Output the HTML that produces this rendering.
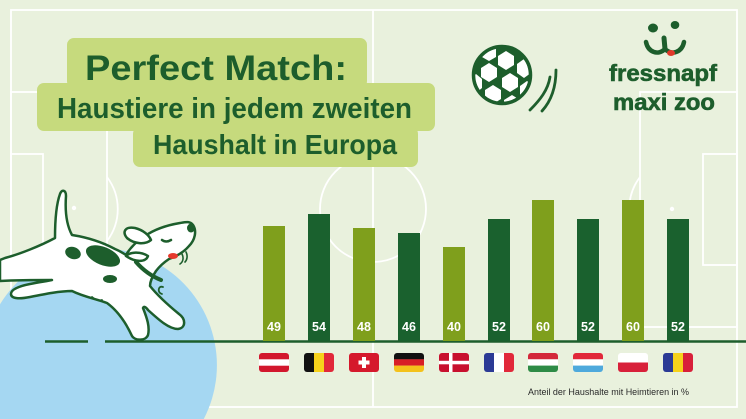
<!DOCTYPE html>
<html>
<head>
<meta charset="utf-8">
<style>
html,body{margin:0;padding:0;background:#e9f1dd;width:746px;height:419px;overflow:hidden;}
svg{display:block;}
</style>
</head>
<body>
<svg width="746" height="419" viewBox="0 0 746 419" xmlns="http://www.w3.org/2000/svg" style="overflow:hidden">
  <rect x="0" y="0" width="746" height="419" fill="#e9f1dd"/>
  <!-- field lines -->
  <g fill="none" stroke="#ffffff" stroke-width="1.8">
    <rect x="11" y="10" width="726" height="397"/>
    <line x1="373" y1="10" x2="373" y2="407"/>
    <circle cx="373" cy="209" r="53"/>
    <rect x="11" y="92" width="96" height="235"/>
    <rect x="11" y="154" width="32" height="111"/>
    <path d="M107,177 A53,53 0 0 1 107,241"/>
    <rect x="640" y="92" width="97" height="235"/>
    <rect x="703" y="154" width="34" height="111"/>
    <path d="M640,177 A53,53 0 0 0 640,241"/>
  </g>
  <circle cx="74" cy="208" r="2.2" fill="#fff"/>
  <circle cx="672" cy="209" r="2.2" fill="#fff"/>

  <!-- title boxes -->
  <g fill="#c6da7d">
    <rect x="67" y="38" width="300" height="50" rx="7"/>
    <rect x="37" y="83" width="398" height="48" rx="7"/>
    <rect x="133" y="127" width="285" height="40" rx="7"/>
  </g>
  <g fill="#1d5e2c" font-family="Liberation Sans, sans-serif" font-weight="bold">
    <text x="85" y="80" font-size="35" textLength="262" lengthAdjust="spacingAndGlyphs">Perfect Match:</text>
    <text x="57" y="118" font-size="29" textLength="355" lengthAdjust="spacingAndGlyphs">Haustiere in jedem zweiten</text>
    <text x="153" y="154" font-size="28" textLength="244" lengthAdjust="spacingAndGlyphs">Haushalt in Europa</text>
  </g>

  <!-- ball -->
  <defs>
    <clipPath id="ballclip"><circle cx="502" cy="75" r="27"/></clipPath>
  </defs>
  <circle cx="502" cy="75" r="28.5" fill="#1d5e2c"/>
  <g fill="#ffffff" clip-path="url(#ballclip)">
    <polygon points="510,73 518,78 518,87 510,92 502,87 502,78"/>
    <polygon points="489,63 497,68 497,77 489,82 481,77 481,68"/>
    <polygon points="506,51 514,56 514,65 506,70 498,65 498,56"/>
    <polygon points="524,59 531,64 531,73 524,78 517,73 517,64"/>
    <polygon points="527,81 534,86 534,95 527,100 520,95 520,86"/>
    <polygon points="512,95 520,100 520,109 512,114 504,109 504,100"/>
    <polygon points="493,85 501,90 501,99 493,104 485,99 485,90"/>
    <polygon points="476,74 482,79 482,88 476,93 470,88 470,79"/>
    <polygon points="489,43 496,48 496,57 489,61 482,57 482,48"/>
  </g>
  <circle cx="502" cy="75" r="28.5" fill="none" stroke="#1d5e2c" stroke-width="3.5"/>
  <g fill="none" stroke="#1d5e2c" stroke-width="2.8" stroke-linecap="round">
    <path d="M530,110 C540,100 548,90 550,77"/>
    <path d="M542,111 C552,100 556,85 556,70"/>
  </g>

  <!-- logo -->
  <ellipse cx="653" cy="28" rx="5" ry="4.5" fill="#1d5e2c"/>
  <ellipse cx="675" cy="25" rx="4.3" ry="4" fill="#1d5e2c"/>
  <path d="M646,42 C648,52 658,56 665,49 C672,56 682,52 684,42" fill="none" stroke="#1d5e2c" stroke-width="4.5" stroke-linecap="round"/>
  <path d="M664,38 L665,49" stroke="#1d5e2c" stroke-width="5" stroke-linecap="round"/>
  <ellipse cx="671" cy="53" rx="4" ry="3" fill="#e0392b"/>
  <g fill="#1d5e2c" font-family="Liberation Sans, sans-serif" font-weight="bold" stroke="#1d5e2c" stroke-width="0.6">
    <text x="609" y="81" font-size="23" textLength="108" lengthAdjust="spacingAndGlyphs">fressnapf</text>
    <text x="613" y="110" font-size="23" textLength="102" lengthAdjust="spacingAndGlyphs">maxi zoo</text>
  </g>

  <!-- blue circle (clipped to frame) -->
  <path d="M0,304.3 A117,117 0 0 1 203.8,419 L0,419 Z" fill="#a5d7f2"/>

  <!-- baseline -->
  <g stroke="#1d5e2c" stroke-width="2.5">
    <line x1="45" y1="341.5" x2="88" y2="341.5"/>
    <line x1="105" y1="341.5" x2="746" y2="341.5"/>
  </g>

  <!-- bars -->
  <g>
    <rect x="263" y="226" width="22" height="115" fill="#7f9f1c"/>
    <rect x="308" y="214" width="22" height="127" fill="#1a612e"/>
    <rect x="353" y="228" width="22" height="113" fill="#7f9f1c"/>
    <rect x="398" y="233" width="22" height="108" fill="#1a612e"/>
    <rect x="443" y="247" width="22" height="94" fill="#7f9f1c"/>
    <rect x="488" y="219" width="22" height="122" fill="#1a612e"/>
    <rect x="532" y="200" width="22" height="141" fill="#7f9f1c"/>
    <rect x="577" y="219" width="22" height="122" fill="#1a612e"/>
    <rect x="622" y="200" width="22" height="141" fill="#7f9f1c"/>
    <rect x="667" y="219" width="22" height="122" fill="#1a612e"/>
  </g>
  <g fill="#ffffff" font-family="Liberation Sans, sans-serif" font-weight="bold" font-size="12.5" text-anchor="middle">
    <text x="274" y="331">49</text>
    <text x="319" y="331">54</text>
    <text x="364" y="331">48</text>
    <text x="409" y="331">46</text>
    <text x="454" y="331">40</text>
    <text x="499" y="331">52</text>
    <text x="543" y="331">60</text>
    <text x="588" y="331">52</text>
    <text x="633" y="331">60</text>
    <text x="678" y="331">52</text>
  </g>

  <!-- flags -->
  <defs>
    <clipPath id="f1"><rect x="259" y="353" width="30" height="19" rx="3"/></clipPath>
    <clipPath id="f2"><rect x="304" y="353" width="30" height="19" rx="3"/></clipPath>
    <clipPath id="f3"><rect x="349" y="353" width="30" height="19" rx="3"/></clipPath>
    <clipPath id="f4"><rect x="394" y="353" width="30" height="19" rx="3"/></clipPath>
    <clipPath id="f5"><rect x="439" y="353" width="30" height="19" rx="3"/></clipPath>
    <clipPath id="f6"><rect x="484" y="353" width="30" height="19" rx="3"/></clipPath>
    <clipPath id="f7"><rect x="528" y="353" width="30" height="19" rx="3"/></clipPath>
    <clipPath id="f8"><rect x="573" y="353" width="30" height="19" rx="3"/></clipPath>
    <clipPath id="f9"><rect x="618" y="353" width="30" height="19" rx="3"/></clipPath>
    <clipPath id="f10"><rect x="663" y="353" width="30" height="19" rx="3"/></clipPath>
  </defs>
  <g clip-path="url(#f1)">
    <rect x="259" y="353" width="30" height="19" fill="#d2172d"/>
    <rect x="259" y="359.3" width="30" height="6.4" fill="#fff"/>
  </g>
  <g clip-path="url(#f2)">
    <rect x="304" y="353" width="10" height="19" fill="#111"/>
    <rect x="314" y="353" width="10" height="19" fill="#f6d21b"/>
    <rect x="324" y="353" width="10" height="19" fill="#e1283a"/>
  </g>
  <g clip-path="url(#f3)">
    <rect x="349" y="353" width="30" height="19" fill="#d5192c"/>
    <rect x="362" y="357" width="4" height="11" fill="#fff"/>
    <rect x="358.5" y="360.5" width="11" height="4" fill="#fff"/>
  </g>
  <g clip-path="url(#f4)">
    <rect x="394" y="353" width="30" height="6.4" fill="#111"/>
    <rect x="394" y="359.3" width="30" height="6.4" fill="#d81f26"/>
    <rect x="394" y="365.6" width="30" height="6.4" fill="#f4c21b"/>
  </g>
  <g clip-path="url(#f5)">
    <rect x="439" y="353" width="30" height="19" fill="#c8102e"/>
    <rect x="449" y="353" width="3.5" height="19" fill="#fff"/>
    <rect x="439" y="360.8" width="30" height="3.5" fill="#fff"/>
  </g>
  <g clip-path="url(#f6)">
    <rect x="484" y="353" width="10" height="19" fill="#2b3a95"/>
    <rect x="494" y="353" width="10" height="19" fill="#fff"/>
    <rect x="504" y="353" width="10" height="19" fill="#e1283a"/>
  </g>
  <g clip-path="url(#f7)">
    <rect x="528" y="353" width="30" height="6.4" fill="#d3283a"/>
    <rect x="528" y="359.3" width="30" height="6.4" fill="#fff"/>
    <rect x="528" y="365.6" width="30" height="6.4" fill="#2e8b46"/>
  </g>
  <g clip-path="url(#f8)">
    <rect x="573" y="353" width="30" height="6.4" fill="#e1283a"/>
    <rect x="573" y="359.3" width="30" height="6.4" fill="#fff"/>
    <rect x="573" y="365.6" width="30" height="6.4" fill="#4ea9dc"/>
  </g>
  <g clip-path="url(#f9)">
    <rect x="618" y="353" width="30" height="9.5" fill="#fff"/>
    <rect x="618" y="362.5" width="30" height="9.5" fill="#d8203a"/>
  </g>
  <g clip-path="url(#f10)">
    <rect x="663" y="353" width="10" height="19" fill="#2b3a95"/>
    <rect x="673" y="353" width="10" height="19" fill="#f6d21b"/>
    <rect x="683" y="353" width="10" height="19" fill="#d8203a"/>
  </g>

  <text x="528" y="395" font-family="Liberation Sans, sans-serif" font-size="9" fill="#2a2a2a" textLength="161" lengthAdjust="spacingAndGlyphs">Anteil der Haushalte mit Heimtieren in %</text>

  <!-- dog -->
  <g stroke="#1d5e2c" stroke-width="2.5" stroke-linejoin="round" stroke-linecap="round">
    <path fill="#ffffff" d="M0,260 L5,258 C20,254 40,246 55,238 C55,225 56,205 60,194 C62,189 66,190 66,196 C65,210 66,224 72,235 C85,237 100,241 115,249 C120,251 123,253 126,255 C130,248 137,241 145,236 C155,229 168,225 180,223 C186,222 190,221 193,225 C197,231 195,240 189,246 C184,252 177,256 169,259 C163,263 159,267 156,271 C152,277 150,282 150,286 C158,296 168,305 179,314 C186,319 186,328 178,329 C169,329 159,320 148,310 C146,307 144,306 143,308 C147,318 150,327 148,335 C146,341 135,341 132,336 C126,323 118,311 107,303 C97,299 84,297 72,291 C60,291 45,294 30,297 C20,299 11,299 11,294 C11,289 20,286 30,284 C40,282 48,281 52,280 C40,280 20,280 0,281 Z"/>
    <path fill="#ffffff" d="M127,238 C122,232 125,226 135,228 C143,230 149,235 151,240 C145,245 134,244 127,238 Z"/>
    <path fill="#ffffff" d="M126,256 C130,252 140,251 148,256 C146,262 136,263 126,256 Z"/>
    <path fill="none" d="M162,240 Q166,243 171,240"/>
    <path fill="none" stroke-width="4" d="M136,262 C143,270 151,276 161,280"/>
    <path fill="none" stroke-width="1.8" d="M163,287 C158,285 157,293 162,294"/>
    <path fill="none" stroke-width="1.6" d="M182,254 C184,258 183,262 180,264"/>
    <path fill="none" stroke-width="1.6" d="M186,252 C188,256 187,260 185,262"/>
    <path fill="none" stroke-width="1.8" d="M92,297 C95,300 99,301 102,300"/>
  </g>
  <g fill="#1d5e2c">
    <ellipse cx="191" cy="228" rx="4" ry="4.5"/>
    <ellipse cx="73" cy="253" rx="8" ry="6" transform="rotate(20 73 253)"/>
    <ellipse cx="103" cy="256" rx="18" ry="9" transform="rotate(22 103 256)"/>
    <ellipse cx="110" cy="279" rx="7" ry="4"/>
  </g>
  <ellipse cx="173" cy="256" rx="5" ry="3" fill="#e63a2e"/>
</svg>
</body>
</html>
